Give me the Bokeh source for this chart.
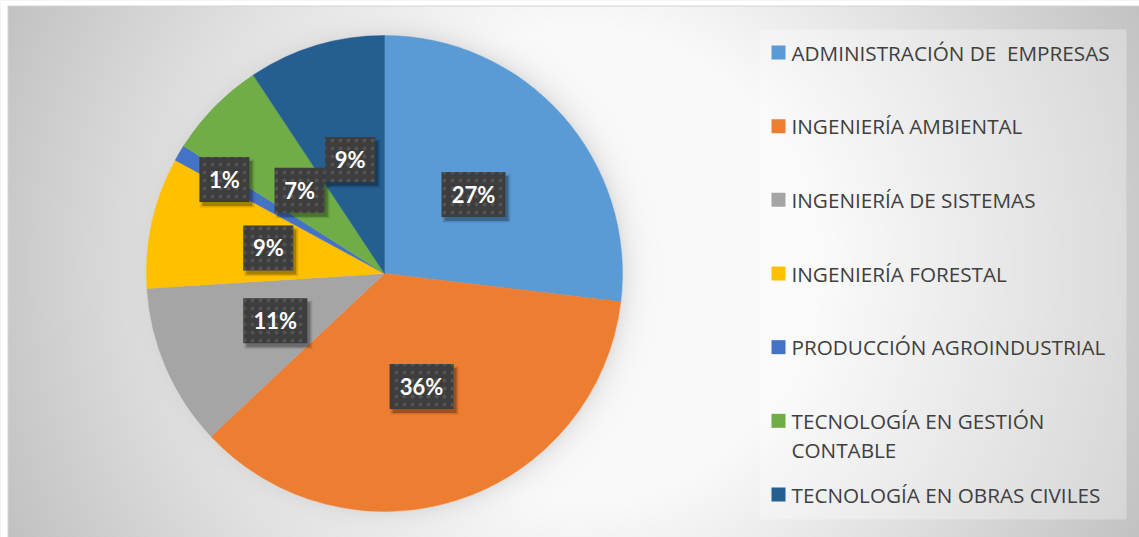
import textwrap
import numpy as np
from bokeh.plotting import figure
from bokeh.models import ColumnDataSource, Range1d
from bokeh.core.properties import value
from bokeh.embed import file_html
from bokeh.resources import INLINE

# ---------------- data ----------------
categories = [
    "ADMINISTRACIÓN DE  EMPRESAS",
    "INGENIERÍA AMBIENTAL",
    "INGENIERÍA DE SISTEMAS",
    "INGENIERÍA FORESTAL",
    "PRODUCCIÓN AGROINDUSTRIAL",
    "TECNOLOGÍA EN GESTIÓN CONTABLE",
    "TECNOLOGÍA EN OBRAS CIVILES",
]
shares = [26.9, 36.1, 11.0, 8.9, 1.1, 6.7, 9.3]
colors = ["#5B9BD5", "#ED7D31", "#A5A5A5", "#FFC000", "#4472C4", "#70AD47", "#255E91"]
# radial position of each data label (fraction of radius)
label_radius = [0.5, 0.5, 0.5, 0.5, 0.78, 0.5, 0.5]

# ---------------- layout ----------------
W, H = 1139, 537
OFF = 0


def X(xr):
    return xr - OFF


def Y(yr):
    return H - (yr - OFF)


CX, CY, R = 384, 273, 238  # pie centre / radius in page pixels

p = figure(width=W, height=H, x_range=Range1d(0, W), y_range=Range1d(0, H),
           output_backend="svg", toolbar_location=None, min_border=0,
           x_axis_location=None, y_axis_location=None)
p.grid.visible = False
p.outline_line_color = None
p.background_fill_color = "#e6e6e6"
p.border_fill_color = "white"

# ---------------- background gradient (decoration) ----------------
yy, xx = np.mgrid[0:H, 0:W]
xr = xx + OFF + 0.5
yr = OFF + (H - 1 - yy) + 0.5
d = np.hypot(xr - 575, yr - 265)
inten = np.clip(250 - 56 * np.clip(d - 235, 0, None) / 390, 190, 250)
rp = np.hypot(xr - CX, yr - CY)
a = np.where(rp > R, 0.7 * np.exp(-(rp - R) / 12.0), 0.0)
inten = inten * (1 - a) + 214 * a
# chart border (light frame line)
border = (np.abs(xr - 7.5) < 1) | (np.abs(yr - 5.5) < 1)
inten = np.where(border, 212, inten)
inten = np.where((xr < 7) | (yr < 5), 255, inten)
img = np.empty((H, W), dtype=np.uint32)
view = img.view(dtype=np.uint8).reshape((H, W, 4))
g = inten.astype(np.uint8)
view[..., 0] = g
view[..., 1] = g
view[..., 2] = g
view[..., 3] = 255
p.image_rgba(image=[img], x=0, y=0, dw=W, dh=H)

# legend panel
p.quad(left=X(759), right=X(1126), top=Y(29), bottom=Y(519),
       fill_color="white", fill_alpha=0.3, line_color=None)

# ---------------- pie ----------------
vals = np.array(shares, dtype=float)
frac = vals / vals.sum()
cum = np.concatenate([[0], np.cumsum(frac)])
start = np.pi / 2 - 2 * np.pi * cum[:-1]
end = np.pi / 2 - 2 * np.pi * cum[1:]
mid = (start + end) / 2

pie_src = ColumnDataSource(dict(
    x=[X(CX)] * len(vals), y=[Y(CY)] * len(vals),
    start=start, end=end, color=colors, cat=categories))
p.wedge(x="x", y="y", radius=R, start_angle="start", end_angle="end",
        direction="clock", fill_color="color", line_color="color",
        line_width=0.5, source=pie_src)

# ---------------- data labels ----------------
pct = [f"{round(f * 100)}%" for f in frac]
lx = X(CX) + np.array(label_radius) * R * np.cos(mid)
ly = Y(CY) + np.array(label_radius) * R * np.sin(mid)
bw = [22 + 14 * len(t) for t in pct]
lab_src = ColumnDataSource(dict(x=lx, y=ly, sx=lx + 3, sy=ly - 4, w=bw,
                                wz=[b + 4 for b in bw], t=pct))
p.rect(x="sx", y="sy", width="wz", height=48, source=lab_src,
       fill_color="black", fill_alpha=0.12, line_color=None)
p.rect(x="sx", y="sy", width="w", height=45, source=lab_src,
       fill_color="black", fill_alpha=0.25, line_color=None)
p.rect(x="x", y="y", width="w", height=45, source=lab_src,
       fill_color="#3d3d3d", line_color=None,
       hatch_pattern="dot", hatch_color="#535353", hatch_scale=8, hatch_weight=1.2)
p.text(x="x", y="y", text="t", source=lab_src, text_color="white",
       text_font=value("Lato"), text_font_style="bold", text_font_size="22px",
       text_align="center", text_baseline="middle")

# ---------------- legend ----------------
step = (494 - 52) / (len(categories) - 1)
sq_y = [Y(52 + i * step) for i in range(len(categories))]
p.rect(x=[X(778)] * len(categories), y=sq_y, width=14, height=14,
       fill_color=colors, line_color=None)
tx, ty, tt = [], [], []
for i, c in enumerate(categories):
    for j, line in enumerate(textwrap.wrap(c, 28)):
        tx.append(X(791))
        ty.append(sq_y[i] - j * 29)
        tt.append(line.replace("  ", " \u00a0"))
p.text(x=tx, y=ty, text=tt, text_color="#404040",
       text_font=value("Open Sans"), text_font_size="20.7px",
       text_align="left", text_baseline="middle")

open("out.html", "w").write(file_html(p, INLINE))
